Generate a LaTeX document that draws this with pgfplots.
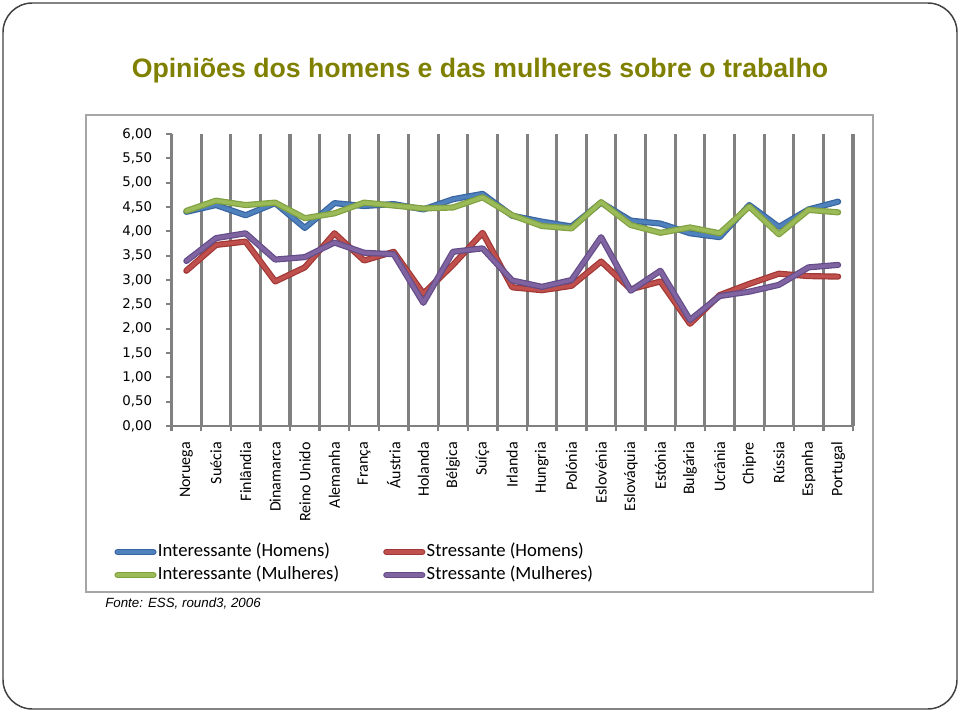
\documentclass[border=0pt]{standalone}
\usepackage{pgfplots}
\usepackage{pgfplotstable}
\pgfplotsset{compat=1.18}
\usepackage{fontspec}
\setmainfont{Carlito}
\newfontfamily\arialf{Liberation Sans}
\newfontfamily\dejavu{DejaVu Sans}
\definecolor{cblue}{RGB}{79,129,189}
\definecolor{cblueD}{RGB}{56,100,160}
\definecolor{cred}{RGB}{192,80,77}
\definecolor{credD}{RGB}{160,55,52}
\definecolor{cgreen}{RGB}{155,187,89}
\definecolor{cgreenD}{RGB}{128,160,66}
\definecolor{cpurp}{RGB}{128,100,162}
\definecolor{cpurpD}{RGB}{100,76,135}
\definecolor{ctitle}{RGB}{128,128,0}
\definecolor{cgrid}{RGB}{128,128,128}
\pgfplotstableread{
x ih sh im sm
0 4.40 3.19 4.42 3.39
1 4.54 3.72 4.63 3.86
2 4.33 3.79 4.54 3.96
3 4.58 2.97 4.59 3.42
4 4.07 3.26 4.27 3.47
5 4.58 3.96 4.37 3.77
6 4.52 3.40 4.59 3.56
7 4.56 3.58 4.53 3.53
8 4.45 2.72 4.47 2.53
9 4.66 3.31 4.49 3.58
10 4.77 3.97 4.70 3.65
11 4.32 2.85 4.33 2.99
12 4.20 2.79 4.11 2.86
13 4.10 2.88 4.06 3.00
14 4.59 3.38 4.60 3.88
15 4.22 2.81 4.13 2.78
16 4.16 2.97 3.97 3.19
17 3.96 2.10 4.08 2.18
18 3.88 2.69 3.96 2.67
19 4.54 2.92 4.51 2.76
20 4.09 3.13 3.94 2.90
21 4.45 3.08 4.44 3.26
22 4.61 3.07 4.39 3.31
}\data
\begin{document}
\begin{tikzpicture}
\path[use as bounding box] (0pt,0pt) rectangle (720pt,-534pt);
\draw[draw=black!75, line width=1.1pt, rounded corners=22pt] (2.25pt,-2.25pt) rectangle (717.75pt,-531.75pt);
\draw[draw=black!35, line width=0.8pt] (64.5pt,-86.25pt) rectangle (654.75pt,-444pt);
\node[anchor=base, font=\arialf\bfseries\fontsize{20}{24}\selectfont, text=ctitle, inner sep=0pt] at (360pt,-58.5pt) {Opiniões dos homens e das mulheres sobre o trabalho};
\node[anchor=base west, font=\arialf\itshape\fontsize{10}{12}\selectfont, inner sep=0pt] at (78.75pt,-455.25pt) {Fonte: ESS, round3, 2006};
\begin{axis}[
  at={(128.625pt,-319.5pt)}, anchor=south west,
  scale only axis, width=511.1pt, height=219pt,
  xmin=-0.5, xmax=22.5, ymin=0, ymax=6,
  axis x line*=bottom, axis y line*=left,
  axis line style={draw=cgrid, line width=1.8pt, -},
  xtick={-0.5,0.5,...,22.5},
  x tick label as interval,
  xticklabels={Noruega,Suécia,Finlândia,Dinamarca,Reino Unido,Alemanha,França,Áustria,Holanda,Bélgica,Suíça,Irlanda,Hungria,Polónia,Eslovénia,Eslováquia,Estónia,Bulgária,Ucrânia,Chipre,Rússia,Espanha,Portugal},
  xmajorgrids,
  major grid style={draw=cgrid, line width=2.3pt},
  x tick style={draw=cgrid, line width=1.8pt},
  ytick={0,0.5,...,6},
  y tick style={draw=cgrid, line width=1.4pt},
  tick align=outside,
  major tick length=4pt,
  xticklabel style={rotate=90, anchor=east, font=\fontsize{12}{14}\selectfont, inner sep=0pt, xshift=-8pt},
  yticklabel style={font=\dejavu\fontsize{10}{12}\selectfont, xshift=-7pt},
  y tick label style={/pgf/number format/.cd, fixed, fixed zerofill, precision=2, use comma, assume math mode=true, /tikz/.cd},
  legend columns=2,
  legend style={draw=none, fill=none, at={(-0.09,-0.471)}, anchor=west,
    font=\fontsize{14}{16}\selectfont,
    nodes={inner sep=0pt, text height=10pt, text depth=3pt},
    row sep=4.25pt,
    /tikz/every odd column/.append style={column sep=1pt}},
  legend cell align=left,
  legend image code/.code={\draw[#1] (0pt,0pt) -- (27pt,0pt);},
  every axis plot/.append style={line width=0.9pt, double distance=2.8pt, line join=round, line cap=round},
  clip=false,
]
\addplot[draw=cblueD, double=cblue] table[x=x, y=ih] {\data};
\addlegendentry{\makebox[169pt][l]{Interessante (Homens)}}
\addplot[draw=credD, double=cred] table[x=x, y=sh] {\data};
\addlegendentry{Stressante (Homens)}
\addplot[draw=cgreenD, double=cgreen] table[x=x, y=im] {\data};
\addlegendentry{\makebox[169pt][l]{Interessante (Mulheres)}}
\addplot[draw=cpurpD, double=cpurp] table[x=x, y=sm] {\data};
\addlegendentry{Stressante (Mulheres)}
\end{axis}
\end{tikzpicture}
\end{document}
